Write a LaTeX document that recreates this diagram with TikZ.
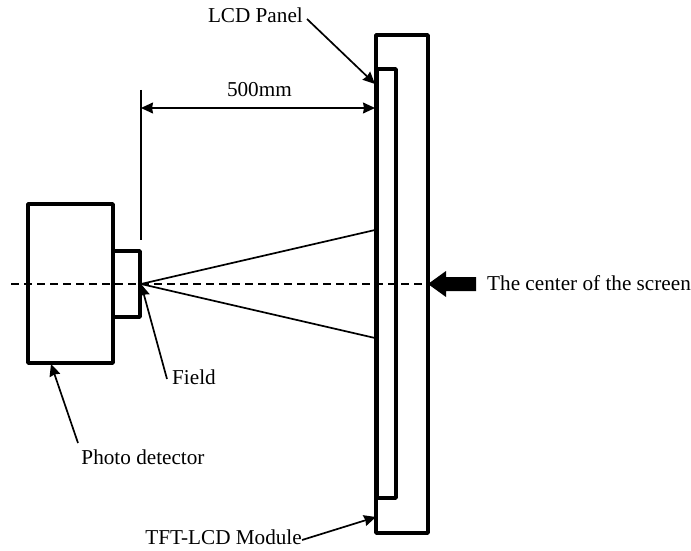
\documentclass[tikz,border=0pt]{standalone}
\usepackage{fontspec}
\setmainfont{Liberation Serif}
\usetikzlibrary{arrows.meta}
\tikzset{
 x=1pt,y=-1pt,
 frame/.style={draw=black,line width=3.6pt,line join=round,inner sep=0pt,fill=none},
 thin line/.style={line width=1.7pt},
 lab/.style={font=\fontsize{21.2pt}{25pt}\selectfont,inner sep=0pt,text=black},
 arr/.style={line width=1.7pt,-{Stealth[length=12pt,width=11pt,inset=1pt]}},
}
\begin{document}
\begin{tikzpicture}
\useasboundingbox (0,0) rectangle (691,551);
\coordinate (o) at (141,284);
\node[frame,minimum width=52pt,minimum height=498pt] (module) at (402,284) {};
\node[frame,minimum width=18.5pt,minimum height=429pt] (panel) at (386.8,283.5) {};
\node[frame,minimum width=85pt,minimum height=159pt] (det) at (70.5,283.5) {};
\node[frame,minimum width=27pt,minimum height=66pt] (lens) at (126.5,284) {};
\coordinate (dl) at (11,284);
\draw[line width=2pt,dash pattern=on 8pt off 5pt] (dl) -- (module.east);
\coordinate (vt) at (141,90);
\coordinate (vb) at (141,240);
\draw[line width=1.4pt] (vt) -- (vb);
\coordinate (da) at (141,108);
\coordinate (db) at (375,108);
\draw[line width=1.4pt,{Stealth[length=12pt,width=11pt,inset=1pt]}-{Stealth[length=12pt,width=11pt,inset=1pt]}] (da) -- (db);
\node[lab,anchor=base east] (dim) at (292,96) {500mm};
\coordinate (r1) at (375,230);
\coordinate (r2) at (375,338);
\draw[thin line] (o) -- (r1);
\draw[thin line] (o) -- (r2);
\node[lab,anchor=base east] (lcd) at (303,23) {LCD Panel};
\coordinate (lcds) at (307,19);
\coordinate (lcdt) at (375,84);
\draw[arr] (lcds) -- (lcdt);
\node[lab,anchor=base west] (field) at (172,384) {Field};
\coordinate (fs) at (167,379);
\draw[arr] (fs) -- (o);
\node[lab,anchor=base] (photo) at (143,464) {Photo detector};
\coordinate (pt) at (51,364);
\coordinate (ps) at (78,443);
\draw[arr] (ps) -- (pt);
\node[lab,anchor=base east] (tft) at (302,544) {TFT-LCD Module};
\coordinate (ts) at (302,540);
\coordinate (tt) at (376,517);
\draw[arr] (ts) -- (tt);
\node[lab,anchor=base west] (center) at (487,290) {The center of the screen};
\fill[black] (428,284) -- (446,271) -- (446,277) -- (476,277) -- (476,291) -- (446,291) -- (446,297) -- cycle;
\end{tikzpicture}
\end{document}
